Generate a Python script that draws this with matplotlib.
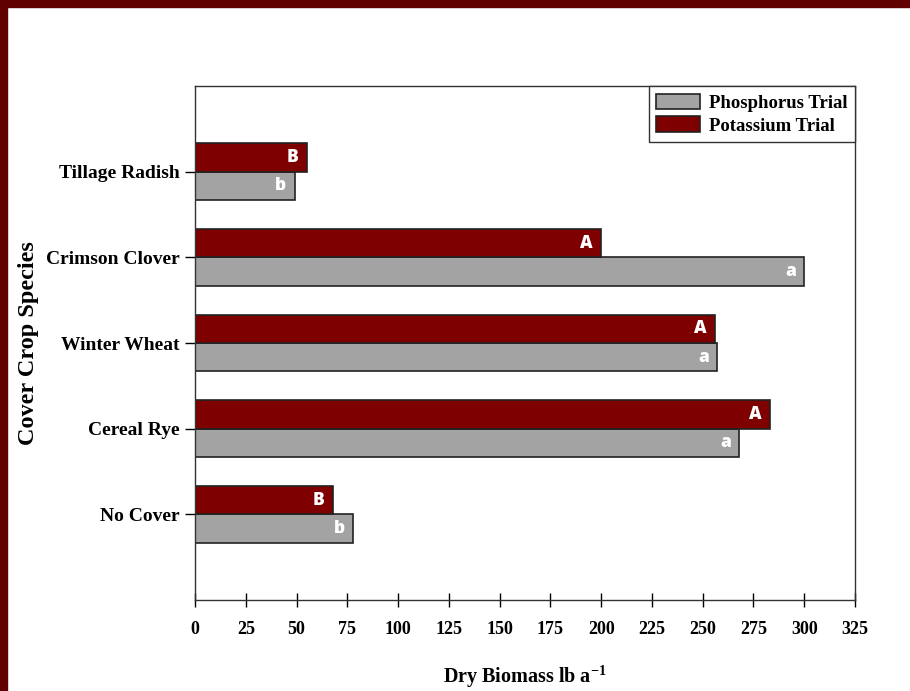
import numpy as np
import matplotlib.pyplot as plt
from matplotlib.patches import Rectangle

species = ["No Cover", "Cereal Rye", "Winter Wheat", "Crimson Clover", "Tillage Radish"]
phosphorus = [78, 268, 257, 300, 49]
potassium = [68, 283, 256, 200, 55]
p_letters = ["b", "a", "a", "a", "b"]
k_letters = ["B", "A", "A", "A", "B"]
xticks = np.arange(0, 326, 25)

serif = "Liberation Serif"
gray = "#a3a3a3"
red = "#7f0000"

fig = plt.figure(figsize=(9.1, 6.91), dpi=100)
ax = fig.add_axes([195 / 910, 1 - 600 / 691, 660 / 910, 514 / 691])

y = np.arange(len(species))
h = 0.33
ax.barh(y - h / 2, phosphorus, height=h, color=gray, edgecolor="#222222",
        linewidth=1.2, label="Phosphorus Trial")
ax.barh(y + h / 2, potassium, height=h, color=red, edgecolor="#222222",
        linewidth=1.2, label="Potassium Trial")

for i in range(len(species)):
    ax.text(phosphorus[i] - 4, y[i] - h / 2, p_letters[i], color="white",
            ha="right", va="center", fontsize=12.5, fontweight="heavy", family="Open Sans")
    ax.text(potassium[i] - 4, y[i] + h / 2, k_letters[i], color="white",
            ha="right", va="center", fontsize=12.5, fontweight="heavy", family="Open Sans")

ax.set_xlim(0, 325)
ax.set_ylim(-1, 5)
ax.set_xticks(xticks)
ax.set_xticklabels([str(t) for t in xticks], family=serif, fontweight="bold", fontsize=13)
ax.set_yticks(y)
ax.set_yticklabels(species, family=serif, fontweight="bold", fontsize=14)
ax.tick_params(axis="x", direction="inout", length=10, width=1, pad=10)
ax.tick_params(axis="y", direction="out", length=7, width=1, pad=4)
for s in ax.spines.values():
    s.set_linewidth(1)
    s.set_color("#333333")

ax.set_xlabel("Dry Biomass lb a$^{\\mathregular{-1}}$", family=serif, fontweight="bold",
              fontsize=14.5, labelpad=18)
ax.set_ylabel("Cover Crop Species", family=serif, fontweight="bold", fontsize=17.5)
ax.yaxis.set_label_coords(-156 / 660, 0.5)

leg = ax.legend(loc="upper right", borderaxespad=0, fancybox=False, framealpha=1,
                prop={"family": serif, "weight": "bold", "size": 13.5},
                handlelength=2.3, handleheight=0.9, labelspacing=0.25,
                borderpad=0.4, handletextpad=0.5)
leg.get_frame().set_edgecolor("#333333")
leg.get_frame().set_linewidth(1)

# dark red frame on top and left of the image
fig.patches.append(Rectangle((0, 1 - 7 / 691), 1, 7 / 691, transform=fig.transFigure,
                             color="#600000", zorder=10))
fig.patches.append(Rectangle((0, 0), 7 / 910, 1, transform=fig.transFigure,
                             color="#600000", zorder=10))

fig.savefig("out.png", dpi=100)
